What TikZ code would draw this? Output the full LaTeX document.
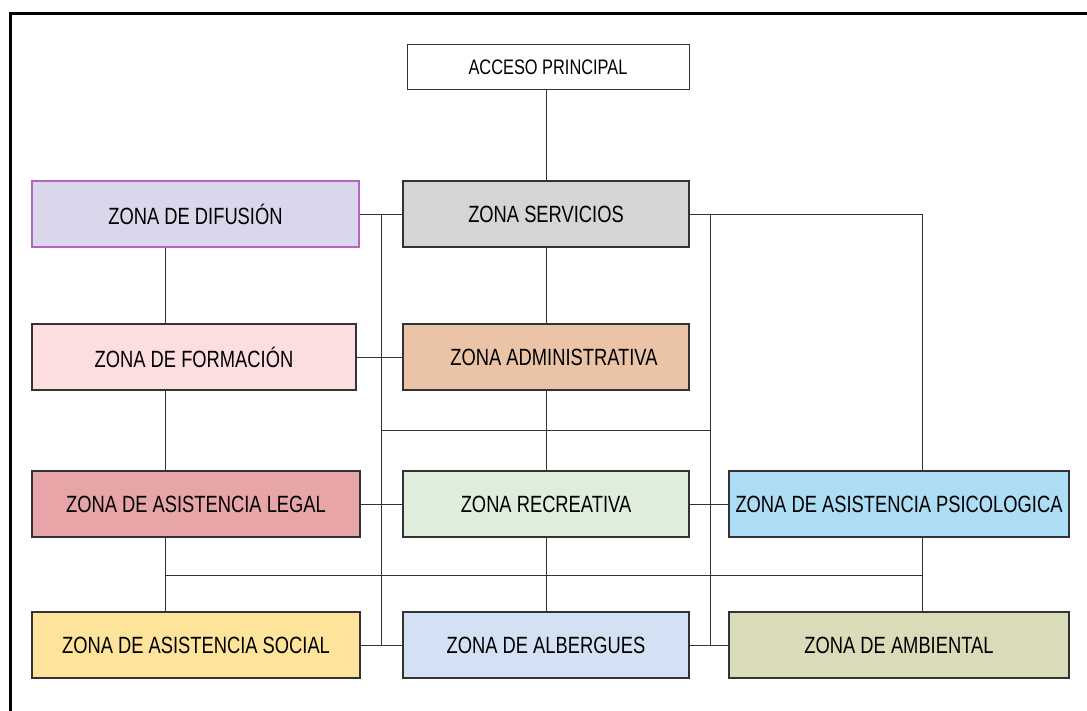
\documentclass[tikz,border=0pt]{standalone}
\usepackage{fontspec}
\usetikzlibrary{positioning,calc}
\newfontfamily\zonafont[FakeStretch=0.78]{Liberation Sans}
\definecolor{lila}{HTML}{D9D7EC}
\definecolor{lilaborde}{HTML}{B565C0}
\definecolor{gris}{HTML}{D4D5D7}
\definecolor{rosa}{HTML}{FCDDE0}
\definecolor{salmon}{HTML}{EBC4A8}
\definecolor{rojo}{HTML}{E8A5A8}
\definecolor{verde}{HTML}{DEEEDB}
\definecolor{celeste}{HTML}{ADDDF5}
\definecolor{amarillo}{HTML}{FDE49A}
\definecolor{azul}{HTML}{D2E2F4}
\definecolor{oliva}{HTML}{DADBB8}
\definecolor{linea}{HTML}{333333}
\begin{document}
\begin{tikzpicture}[
 x=1pt,y=-1pt,
 zona/.style={draw=linea,line width=1.1pt,minimum height=66pt,inner sep=0pt,font=\zonafont\fontsize{23.5}{28}\selectfont},
 acc/.style={draw=linea,line width=1pt,fill=white,minimum width=282pt,minimum height=45pt,inner sep=0pt,font=\zonafont\fontsize{21}{25}\selectfont},
 link/.style={draw=linea,line width=0.9pt}
]
\useasboundingbox (0,0) rectangle (1087,711);
\fill[white] (0,0) rectangle (1087,711);
\draw[line width=3pt] (10,740) -- (10,14) -- (1110,14);
% nodos
\node[acc] (acceso) at (548,67.5) {ACCESO PRINCIPAL};
\node[zona,fill=lila,draw=lilaborde,minimum width=327pt] (difusion) at (195.5,214) {ZONA DE DIFUSIÓN\hspace{10pt}};
\node[zona,fill=gris,minimum width=286pt] (servicios) at (546,214) {ZONA SERVICIOS};
\node[zona,fill=rosa,minimum width=324pt] (formacion) at (194,357) {ZONA DE FORMACIÓN};
\node[zona,fill=salmon,minimum width=286pt] (admin) at (546,357) {\hspace{16pt}ZONA ADMINISTRATIVA};
\node[zona,fill=rojo,minimum width=328pt] (legal) at (196,504) {ZONA DE ASISTENCIA LEGAL};
\node[zona,fill=verde,minimum width=286pt] (recreativa) at (546,504) {ZONA RECREATIVA};
\node[zona,fill=celeste,minimum width=340pt] (psico) at (899,504) {ZONA DE ASISTENCIA PSICOLOGICA};
\node[zona,fill=amarillo,minimum width=328pt] (social) at (196,645) {ZONA DE ASISTENCIA SOCIAL};
\node[zona,fill=azul,minimum width=286pt] (albergues) at (546,645) {ZONA DE ALBERGUES};
\node[zona,fill=oliva,minimum width=340pt] (ambiental) at (899,645) {ZONA DE AMBIENTAL};
% ejes de las lineas
\coordinate (busF) at (165,0);
\coordinate (busL) at (381,0);
\coordinate (busR) at (710,0);
\coordinate (busP) at (922,0);
\coordinate (midbus) at (0,430);
\coordinate (lowbus) at (0,575);
% conexiones
\foreach \a/\b in {difusion/servicios,formacion/admin,legal/recreativa,recreativa/psico,social/albergues,albergues/ambiental}{\draw[link] (\a.east)--(\b.west);}
\draw[link] (servicios.north |- acceso.south)--(servicios.north);
\foreach \a/\b in {servicios/admin,admin/recreativa,recreativa/albergues}{\draw[link] (\a.south)--(\b.north);}
\foreach \a/\b in {difusion/formacion,formacion/legal,legal/social}{\draw[link] (busF |- \a.south)--(busF |- \b.north);}
\draw[link] (busP |- psico.south)--(busP |- ambiental.north);
\draw[link] (servicios.east) -| (busP |- psico.north);
\draw[link] (busL |- servicios.west)--(busL |- albergues.west);
\draw[link] (busR |- servicios.east)--(busR |- albergues.east);
\draw[link] (busL |- midbus)--(busR |- midbus);
\draw[link] (busF |- lowbus)--(busP |- lowbus);
\end{tikzpicture}
\end{document}
